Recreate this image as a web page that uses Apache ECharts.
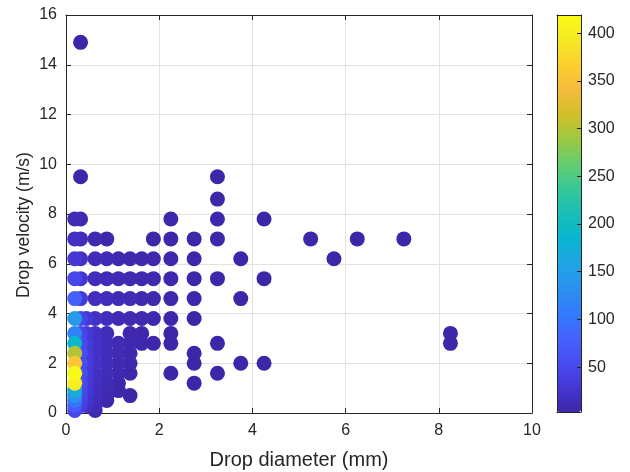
<!DOCTYPE html>
<html><head><meta charset="utf-8">
<script src="https://cdn.jsdelivr.net/npm/echarts@6/dist/echarts.min.js"></script>
<style>html,body{margin:0;padding:0;background:#fff}#c{width:630px;height:472px}</style>
</head><body><div id="c"></div>
<script>
// Drop diameter (mm), drop velocity (m/s), number of drops in class
const diameter = [
  0.3125,
  0.3125, 3.25,
  3.25,
  0.1875, 0.3125, 2.25, 3.25, 4.25,
  0.1875, 0.3125, 0.625, 0.875, 1.875, 2.25, 2.75, 3.25, 5.25, 6.25, 7.25,
  0.1875, 0.3125, 0.625, 0.875, 1.125, 1.375, 1.625, 1.875, 2.25, 2.75, 3.75, 5.75,
  0.1875, 0.3125, 0.625, 0.875, 1.125, 1.375, 1.625, 1.875, 2.25, 2.75, 3.25, 4.25,
  0.1875, 0.3125, 0.625, 0.875, 1.125, 1.375, 1.625, 1.875, 2.25, 2.75, 3.75,
  0.1875, 0.3125, 0.4375, 0.625, 0.875, 1.125, 1.375, 1.625, 1.875, 2.25, 2.75,
  0.1875, 0.3125, 0.4375, 0.625, 0.875, 1.375, 1.625, 2.25, 8.25,
  0.1875, 0.3125, 0.4375, 0.625, 0.875, 1.125, 1.375, 1.625, 1.875, 2.25, 3.25, 8.25,
  0.1875, 0.3125, 0.4375, 0.625, 0.875, 1.125, 1.375, 2.75,
  0.1875, 0.3125, 0.4375, 0.625, 0.875, 1.125, 1.375, 2.75, 3.75, 4.25,
  0.1875, 0.3125, 0.4375, 0.625, 0.875, 1.125, 1.375, 2.25, 3.25,
  0.1875, 0.3125, 0.4375, 0.625, 0.875, 1.125, 2.75,
  0.1875, 0.3125, 0.4375, 0.625, 0.875, 1.125,
  0.1875, 0.3125, 0.4375, 0.625, 0.875, 1.375,
  0.1875, 0.3125, 0.4375, 0.625, 0.875,
  0.1875, 0.3125, 0.4375, 0.625,
  0.1875, 0.625
];
const velocity = [
  14.9,
  9.5, 9.5,
  8.6,
  7.8, 7.8, 7.8, 7.8, 7.8,
  7.0, 7.0, 7.0, 7.0, 7.0, 7.0, 7.0, 7.0, 7.0, 7.0, 7.0,
  6.2, 6.2, 6.2, 6.2, 6.2, 6.2, 6.2, 6.2, 6.2, 6.2, 6.2, 6.2,
  5.4, 5.4, 5.4, 5.4, 5.4, 5.4, 5.4, 5.4, 5.4, 5.4, 5.4, 5.4,
  4.6, 4.6, 4.6, 4.6, 4.6, 4.6, 4.6, 4.6, 4.6, 4.6, 4.6,
  3.8, 3.8, 3.8, 3.8, 3.8, 3.8, 3.8, 3.8, 3.8, 3.8, 3.8,
  3.2, 3.2, 3.2, 3.2, 3.2, 3.2, 3.2, 3.2, 3.2,
  2.8, 2.8, 2.8, 2.8, 2.8, 2.8, 2.8, 2.8, 2.8, 2.8, 2.8, 2.8,
  2.4, 2.4, 2.4, 2.4, 2.4, 2.4, 2.4, 2.4,
  2.0, 2.0, 2.0, 2.0, 2.0, 2.0, 2.0, 2.0, 2.0, 2.0,
  1.6, 1.6, 1.6, 1.6, 1.6, 1.6, 1.6, 1.6, 1.6,
  1.2, 1.2, 1.2, 1.2, 1.2, 1.2, 1.2,
  0.9, 0.9, 0.9, 0.9, 0.9, 0.9,
  0.7, 0.7, 0.7, 0.7, 0.7, 0.7,
  0.5, 0.5, 0.5, 0.5, 0.5,
  0.3, 0.3, 0.3, 0.3,
  0.1, 0.1
];
const count = [
  3,
  4, 3,
  3,
  10, 8, 4, 4, 3,
  18, 12, 7, 5, 4, 5, 4, 4, 3, 3, 3,
  30, 20, 12, 10, 8, 7, 6, 6, 5, 4, 3, 3,
  48, 26, 14, 12, 10, 9, 8, 7, 6, 5, 3, 3,
  78, 32, 16, 13, 11, 10, 8, 6, 5, 4, 3,
  145, 45, 30, 20, 14, 11, 9, 8, 6, 4, 3,
  115, 45, 30, 18, 12, 6, 5, 3, 3,
  190, 50, 32, 20, 14, 10, 8, 6, 4, 3, 3, 3,
  300, 55, 34, 20, 14, 9, 6, 3,
  355, 55, 34, 20, 13, 8, 5, 3, 3, 3,
  415, 55, 32, 18, 12, 7, 4, 3, 3,
  400, 52, 30, 16, 10, 5, 3,
  165, 48, 28, 15, 8, 4,
  130, 44, 25, 13, 6, 3,
  100, 40, 22, 12, 5,
  70, 35, 18, 10,
  48, 8
];
const xTicks = [0, 2, 4, 6, 8, 10];
const yTicks = [0, 2, 4, 6, 8, 10, 12, 14, 16];
const colorbarTicks = [50, 100, 150, 200, 250, 300, 350, 400];
const countMin = 3, countMax = 419;

const parula = ['#3e26a8','#4537d5','#484df0','#4563fd','#327cfc','#2b91ef','#20a5e3','#08b5d0',
  '#19bfb6','#37c897','#64cd6f','#9dc943','#d1bf27','#f8ba3d','#fccf30','#f5e924','#f9fb15'];

const points = diameter.map((d, i) => [d, velocity[i], count[i]]);
points.sort((a, b) => a[2] - b[2]);

const ink = '#262626';
const font = 'Liberation Sans, Arial, Helvetica, sans-serif';
const chart = echarts.init(document.getElementById('c'));
const tickIn = {show: true, inside: true, length: 5, lineStyle: {color: ink, width: 1}};
const line = {show: true, onZero: false, lineStyle: {color: ink, width: 1}};
const grid = {show: true, lineStyle: {color: '#e2e2e2', width: 1}};
const lab = {show: true, color: ink, fontSize: 16, fontFamily: font};

chart.setOption({
  animation: false,
  backgroundColor: '#fff',
  textStyle: {fontFamily: font},
  grid: [
    {left: 66, top: 15, width: 466, height: 398, containLabel: false, outerBoundsMode: 'none'},
    {left: 557, top: 15, width: 24, height: 397, containLabel: false, outerBoundsMode: 'none'}
  ],
  xAxis: [
    {gridIndex: 0, type: 'value', position: 'bottom', min: xTicks[0], max: xTicks[xTicks.length-1], interval: 2,
      axisLine: line, axisTick: tickIn, splitLine: grid,
      axisLabel: Object.assign({margin: 10}, lab),
      name: 'Drop diameter (mm)', nameLocation: 'middle', nameGap: 37, nameMoveOverlap: false,
      nameTextStyle: {color: ink, fontSize: 20, fontFamily: font}},
    {gridIndex: 0, type: 'value', position: 'top', min: 0, max: 10, interval: 2,
      axisLine: line, axisTick: tickIn, splitLine: {show: false}, axisLabel: {show: false}},
    {gridIndex: 1, type: 'value', position: 'bottom', min: 0, max: 1, z: 10,
      axisLine: line, axisTick: {show: false}, splitLine: {show: false}, axisLabel: {show: false}},
    {gridIndex: 1, type: 'value', position: 'top', min: 0, max: 1, z: 10,
      axisLine: line, axisTick: {show: false}, splitLine: {show: false}, axisLabel: {show: false}}
  ],
  yAxis: [
    {gridIndex: 0, type: 'value', position: 'left', min: yTicks[0], max: yTicks[yTicks.length-1], interval: 2,
      axisLine: line, axisTick: tickIn, splitLine: grid,
      axisLabel: Object.assign({margin: 9}, lab),
      name: 'Drop velocity (m/s)', nameLocation: 'middle', nameGap: 33, nameMoveOverlap: false,
      nameTextStyle: {color: ink, fontSize: 17.5, fontFamily: font, padding: [0, 22, 0, 0]}},
    {gridIndex: 0, type: 'value', position: 'right', min: 0, max: 16, interval: 2,
      axisLine: line, axisTick: tickIn, splitLine: {show: false}, axisLabel: {show: false}},
    {gridIndex: 1, type: 'value', position: 'left', min: countMin, max: countMax, z: 10,
      axisLine: line, axisTick: {show: false}, splitLine: {show: false}, axisLabel: {show: false}},
    {gridIndex: 1, type: 'value', position: 'right', min: countMin, max: countMax, z: 10,
      axisLine: line,
      axisTick: {show: true, inside: true, length: 4, lineStyle: {color: ink}, customValues: colorbarTicks},
      splitLine: {show: false},
      axisLabel: Object.assign({margin: 7, customValues: colorbarTicks}, lab)}
  ],
  visualMap: {
    type: 'continuous', min: countMin, max: countMax, dimension: 2, seriesIndex: 0,
    calculable: false, hoverLink: false, orient: 'vertical',
    left: 557, top: 15, itemWidth: 24, itemHeight: 397, padding: 0, z: 2,
    inRange: {color: parula}, textStyle: {color: ink}
  },
  series: [{
    type: 'scatter', xAxisIndex: 0, yAxisIndex: 0,
    symbol: 'circle', symbolSize: 15,
    itemStyle: {opacity: 1},
    data: points, z: 3
  }]
});
</script></body></html>
